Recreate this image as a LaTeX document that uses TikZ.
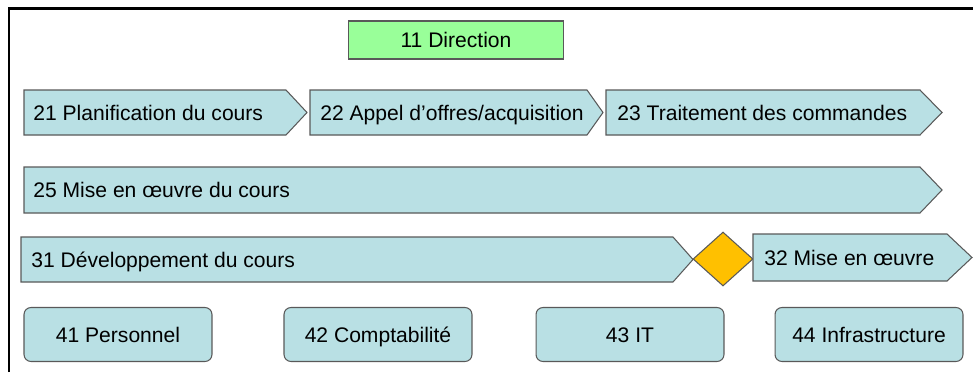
\documentclass[tikz,border=0pt]{standalone}
\usepackage{fontspec}
\setmainfont{Liberation Sans}
\usetikzlibrary{%
        shapes.geometric
    }
\definecolor{phaseblue}{RGB}{185, 224, 228}
\definecolor{dirgreen}{RGB}{153, 255, 153}
\definecolor{gateorange}{RGB}{255, 192, 0}
\definecolor{edgegray}{RGB}{89, 89, 89}
\tikzset{%
    edge line/.style={draw=edgegray, line width=0.6pt},
    phase/.style={edge line, fill=phaseblue},
    phase text/.style={anchor=west, inner sep=0pt, text height=8.6pt,
        text depth=0pt},
    unit/.style={edge line, fill=phaseblue, rounded corners=0.14cm,
        minimum width=3.76cm, minimum height=1.08cm, text height=8.6pt,
        text depth=0pt}
}

\begin{document}
\begin{tikzpicture}[x=0.02cm, y=-0.02cm, font=\fontsize{12}{14}\selectfont]

    \useasboundingbox (0, 0) rectangle (973, 372);

    % Frame
    \draw[line width=1.4pt] (9, 372) -- (9, 8.5) -- (973, 8.5);

    % Direction
    \node[edge line, fill=dirgreen, minimum width=4.3cm, minimum height=0.76cm,
        text height=8.6pt, text depth=0pt] (direction) at (456, 40)
        {11 Direction};

    % Course phases
    \draw[phase] (24, 90) -- (286, 90) -- (307, 112.5) -- (286, 135)
        -- (24, 135) -- cycle;
    \node[phase text] (planning) at (33, 112.5) {21 Planification du cours};

    \draw[phase] (310, 90) -- (587, 90) -- (603, 112.5) -- (587, 135)
        -- (310, 135) -- cycle;
    \node[phase text] (tender) at (320, 112.5) {22 Appel d’offres/acquisition};

    \draw[phase] (606, 90) -- (920, 90) -- (942, 112.5) -- (920, 135)
        -- (606, 135) -- cycle;
    \node[phase text] (orders) at (617, 112.5) {23 Traitement des commandes};

    \draw[phase] (24, 167) -- (920, 167) -- (942, 190) -- (920, 213)
        -- (24, 213) -- cycle;
    \node[phase text] (delivery) at (33, 190) {25 Mise en œuvre du cours};

    \draw[phase] (21, 237) -- (673, 237) -- (693, 259.5) -- (673, 282)
        -- (21, 282) -- cycle;
    \node[phase text] (development) at (31, 259.5)
        {31 Développement du cours};

    \node[diamond, edge line, fill=gateorange, inner sep=0pt,
        minimum width=1.2cm, minimum height=1.08cm] (gate) at (723, 259) {};

    \draw[phase] (753, 234) -- (947, 234) -- (972, 257.5) -- (947, 281)
        -- (753, 281) -- cycle;
    \node[phase text] (rollout) at (764, 257.5) {32 Mise en œuvre};

    % Support units
    \node[unit] (staff) at (118, 334.5) {41 Personnel};
    \node[unit] (accounting) at (378, 334.5) {42 Comptabilité};
    \node[unit] (it) at (630, 334.5) {43 IT};
    \node[unit] (infra) at (869, 334.5) {44 Infrastructure};

\end{tikzpicture}
\end{document}
